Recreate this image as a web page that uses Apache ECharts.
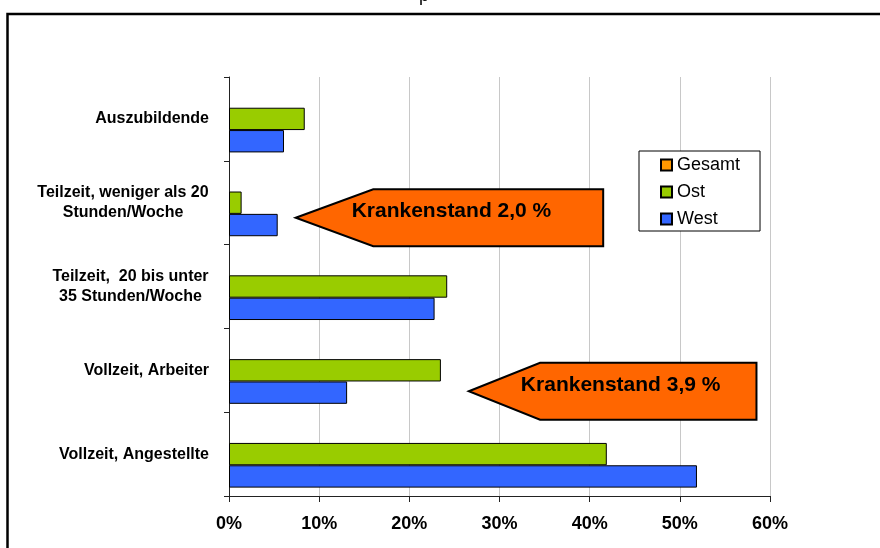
<!DOCTYPE html>
<html>
<head>
<meta charset="utf-8">
<script src="https://cdn.jsdelivr.net/npm/echarts@6/dist/echarts.min.js"></script>
<style>
  html, body { margin: 0; background: #fff; }
  #chart { width: 880px; height: 548px; }
</style>
</head>
<body>
<div id="chart"></div>
<script>
// categories, top to bottom
const categories = [
  'Auszubildende',
  'Teilzeit, weniger als 20\nStunden/Woche',
  'Teilzeit,  20 bis unter\n35 Stunden/Woche',
  'Vollzeit, Arbeiter',
  'Vollzeit, Angestellte'
];
const gesamt = [null, null, null, null, null];
const ost = [8.4, 1.4, 24.2, 23.5, 41.9];
const west = [6.1, 5.4, 22.8, 13.1, 51.9];
const xTicks = [0, 10, 20, 30, 40, 50, 60];
// callout arrows, anchored in axis units (percent / category index)
const calloutTexts = ['Krankenstand 2,0 %', 'Krankenstand 3,9 %'];
const calloutCategory = [1, 3];
const calloutTip = [7.4, 26.6];
const calloutLeft = [16.0, 34.5];
const calloutRight = [41.5, 58.5];

const FONT = '"Liberation Sans", Arial, sans-serif';

var myChart = echarts.init(document.getElementById('chart'));

// multi-line labels: lines centred within the block, block right-aligned
var ctx = document.createElement('canvas').getContext('2d');
ctx.font = 'bold 16px "Liberation Sans"';
var rich = {};
categories.forEach(function (c, i) {
  var w = 0;
  c.split('\n').forEach(function (l) { w = Math.max(w, ctx.measureText(l).width); });
  rich['c' + i] = {
    width: Math.ceil(w), align: 'center', fontSize: 16, fontWeight: 'bold',
    fontFamily: FONT, color: '#000', lineHeight: 20.5
  };
});

var barStyle = function (color) {
  return { color: color, borderColor: '#000', borderWidth: 1 };
};

var option = {
  animation: false,
  textStyle: { fontFamily: FONT },
  grid: {
    left: 229,
    right: 110,
    top: 77,
    bottom: 52,
    containLabel: false
  },
  legend: {
    orient: 'vertical',
    left: 639,
    top: 151,
    data: ['Gesamt', 'Ost', 'West'],
    icon: 'rect',
    itemWidth: 11,
    itemHeight: 11,
    itemGap: 9,
    padding: [5, 20, 3, 21],
    borderColor: '#000',
    borderWidth: 1,
    backgroundColor: '#fff',
    textStyle: { fontSize: 18, color: '#000', fontFamily: FONT }
  },
  xAxis: {
    type: 'value',
    min: xTicks[0],
    max: xTicks[xTicks.length - 1],
    interval: xTicks[1] - xTicks[0],
    axisLine: { show: true, lineStyle: { color: '#222', width: 1 } },
    axisTick: { show: true, length: 6, lineStyle: { color: '#222' } },
    splitLine: { show: true, lineStyle: { color: '#c8c8c8', width: 1 } },
    axisLabel: {
      formatter: '{value}%',
      fontSize: 18,
      fontWeight: 'bold',
      color: '#000',
      margin: 19
    }
  },
  yAxis: {
    type: 'category',
    inverse: true,
    data: categories,
    axisLine: { show: true, lineStyle: { color: '#222', width: 1 } },
    axisTick: { show: true, length: 5, lineStyle: { color: '#222' } },
    splitLine: { show: false },
    axisLabel: {
      margin: 20,
      fontSize: 16,
      fontWeight: 'bold',
      color: '#000',
      lineHeight: 20.5,
      formatter: function (value) {
        var i = categories.indexOf(value);
        var lines = value.split('\n');
        if (lines.length < 2) return value;
        return lines.map(function (l) { return '{c' + i + '|' + l + '}'; }).join('\n');
      },
      rich: rich
    }
  },
  series: [
    {
      name: 'Gesamt',
      type: 'bar',
      barGap: '0%',
      barCategoryGap: '20%',
      itemStyle: barStyle('#ff9900'),
      data: gesamt
    },
    {
      name: 'Ost',
      type: 'bar',
      barGap: '0%',
      barCategoryGap: '20%',
      itemStyle: barStyle('#99cc00'),
      data: ost
    },
    {
      name: 'West',
      type: 'bar',
      barGap: '0%',
      barCategoryGap: '20%',
      itemStyle: barStyle('#3366ff'),
      data: west
    }
  ]
};
myChart.setOption(option);

// callout arrows + outer frame
var dy = [15, 21];       // arrow centre below the category centre
var half = 28.5;         // half height of the arrow
var graphic = [
  {
    type: 'rect', z: 100, silent: true,
    shape: { x: 7.5, y: 14, width: 1000, height: 700 },
    style: { fill: 'none', stroke: '#000', lineWidth: 2.5 }
  },
  {
    type: 'text', z: 100, x: 419, y: 5,
    style: { text: 'p', font: '18px ' + FONT, fill: '#000', verticalAlign: 'bottom' }
  }
];
calloutTexts.forEach(function (t, k) {
  var cy = myChart.convertToPixel({ yAxisIndex: 0 }, calloutCategory[k]) + dy[k];
  var xt = myChart.convertToPixel({ xAxisIndex: 0 }, calloutTip[k]);
  var xl = myChart.convertToPixel({ xAxisIndex: 0 }, calloutLeft[k]);
  var xr = myChart.convertToPixel({ xAxisIndex: 0 }, calloutRight[k]);
  graphic.push({
    type: 'polygon', z: 50,
    shape: { points: [[xt, cy], [xl, cy - half], [xr, cy - half], [xr, cy + half], [xl, cy + half]] },
    style: { fill: '#ff6600', stroke: '#000', lineWidth: 2 }
  });
  graphic.push({
    type: 'text', z: 51,
    x: (xt + xr) / 2 + (k === 0 ? 2 : 8),
    y: cy - 6,
    style: {
      text: t, font: 'bold 21px ' + FONT, fill: '#000',
      align: 'center', verticalAlign: 'middle'
    }
  });
});
myChart.setOption({ graphic: graphic });

window.addEventListener('resize', function () {
  myChart.resize();
});
</script>
</body>
</html>
